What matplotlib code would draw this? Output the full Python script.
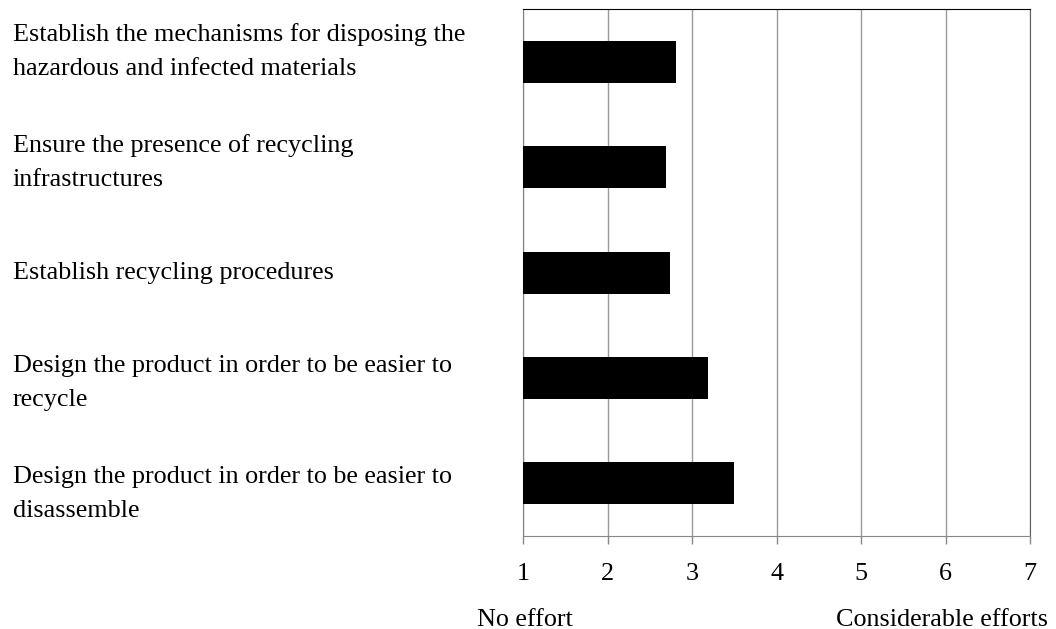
import matplotlib
matplotlib.use('Agg')
import matplotlib.pyplot as plt
import matplotlib.transforms as mtransforms

# data, top to bottom
labels = [
    'Establish the mechanisms for disposing the\nhazardous and infected materials',
    'Ensure the presence of recycling\ninfrastructures',
    'Establish recycling procedures',
    'Design the product in order to be easier to\nrecycle',
    'Design the product in order to be easier to\ndisassemble',
]
scores = [2.81, 2.69, 2.74, 3.19, 3.50]
ticks = [1, 2, 3, 4, 5, 6, 7]

plt.rcParams['font.family'] = ['Liberation Serif', 'DejaVu Serif']
fs = 18.8

fig = plt.figure(figsize=(10.56, 6.29), dpi=100)
ax = fig.add_axes([0.4953, 0.148, 0.4801, 0.837])

pos = list(range(len(labels)))
ax.barh(pos, [s - 1 for s in scores], left=1, height=0.4, color='black', zorder=3)

ax.set_xlim(1, 7)
ax.set_ylim(len(labels) - 0.5, -0.5)
ax.set_xticks(ticks)
ax.set_xticklabels([str(t) for t in ticks], fontsize=fs)
ax.set_yticks([])
ax.tick_params(axis='x', length=5.5, width=1, color='#888888', pad=14)

ax.grid(axis='x', color='#999999', linewidth=1, zorder=0)
ax.spines['top'].set_color('black')
ax.spines['left'].set_color('#808080')
ax.spines['right'].set_color('#606060')
ax.spines['bottom'].set_color('#888888')

# category labels, left-aligned at the figure edge
tr = mtransforms.blended_transform_factory(fig.transFigure, ax.transData)
for i, lab in enumerate(labels):
    y = 2 + (i - 2) * 1.05
    ax.text(0.012, y, lab, transform=tr, ha='left', va='center',
            fontsize=fs, linespacing=1.7)

fig.text(0.4515, 0.005, 'No effort', ha='left', va='baseline', fontsize=fs)
fig.text(0.9924, 0.005, 'Considerable efforts', ha='right', va='baseline', fontsize=fs)

fig.savefig('out.png', dpi=100)
